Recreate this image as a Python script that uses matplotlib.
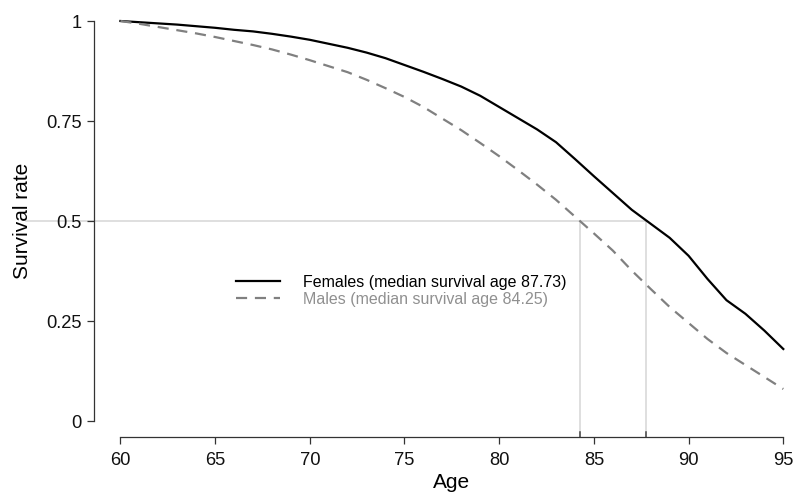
import matplotlib
matplotlib.use("Agg")
import matplotlib.pyplot as plt

plt.rcParams["font.family"] = ["Liberation Sans", "DejaVu Sans"]

# Survival curves by age (read at yearly ages)
ages = [60, 61, 62, 63, 64, 65, 66, 67, 68, 69, 70, 71, 72, 73, 74, 75, 76, 77,
        78, 79, 80, 81, 82, 83, 84, 85, 86, 87, 88, 89, 90, 91, 92, 93, 94, 95]
females = [1.000, 0.997, 0.994, 0.991, 0.987, 0.983, 0.978, 0.974, 0.968, 0.961,
           0.953, 0.943, 0.933, 0.921, 0.907, 0.890, 0.873, 0.855, 0.836, 0.813,
           0.785, 0.757, 0.729, 0.697, 0.655, 0.612, 0.570, 0.528, 0.493, 0.458,
           0.413, 0.355, 0.302, 0.268, 0.226, 0.180]
males = [1.000, 0.993, 0.985, 0.977, 0.969, 0.960, 0.950, 0.940, 0.929, 0.916,
         0.902, 0.887, 0.872, 0.853, 0.832, 0.810, 0.785, 0.756, 0.727, 0.695,
         0.662, 0.627, 0.591, 0.553, 0.511, 0.469, 0.426, 0.376, 0.330, 0.285,
         0.245, 0.205, 0.170, 0.140, 0.110, 0.080]

median_female = 87.73
median_male = 84.25
median_level = 0.5

x_ticks = [60, 65, 70, 75, 80, 85, 90, 95]
y_ticks = [0, 0.25, 0.5, 0.75, 1]
y_tick_labels = ["0", "0.25", "0.5", "0.75", "1"]

labels = [f"Females (median survival age {median_female:.2f})",
          f"Males (median survival age {median_male:.2f})"]

fig = plt.figure(figsize=(7.95, 4.96), dpi=100)
ax = fig.add_axes([120.4 / 795, 75 / 496, 662.9 / 795, 400 / 496])

ref_color = "#d6d6d6"
axis_color = "#333333"

# reference lines at the median
ax.plot([55, median_female], [median_level, median_level], color=ref_color,
        lw=1.1, clip_on=False, zorder=1)
for m in (median_male, median_female):
    ax.plot([m, m], [-0.04, median_level], color=ref_color, lw=1.1,
            clip_on=False, zorder=1)
    ax.plot([m, m], [-0.04, -0.028], color="#444444", lw=1.1,
            clip_on=False, zorder=2)

l1, = ax.plot(ages, females, color="black", lw=1.6, zorder=3, clip_on=False)
l2, = ax.plot(ages, males, color="#808080", lw=1.6, ls=(0, (5, 3.5)),
              zorder=3, clip_on=False)

ax.set_xlim(60, 95)
ax.set_ylim(0, 1)

for side in ("top", "right"):
    ax.spines[side].set_visible(False)
ax.spines["left"].set_position(("outward", 19))
ax.spines["bottom"].set_position(("outward", 11.5))
ax.spines["left"].set_bounds(0, 1)
ax.spines["bottom"].set_bounds(60, 95)
for side in ("left", "bottom"):
    ax.spines[side].set_color(axis_color)
    ax.spines[side].set_linewidth(0.9)

ax.set_xticks(x_ticks)
ax.set_yticks(y_ticks)
ax.set_yticklabels(y_tick_labels)
ax.tick_params(axis="both", length=5, width=0.9, color=axis_color,
               labelsize=13.2, labelcolor="#111111", pad=4)
ax.tick_params(axis="x", pad=6)

ax.set_xlabel("Age", fontsize=15, labelpad=3)
ax.set_ylabel("Survival rate", fontsize=15, labelpad=10)

leg = ax.legend([l1, l2], labels, loc="upper left",
                bbox_to_anchor=(0.174, 0.365), frameon=False, fontsize=11.5,
                handlelength=2.8, handletextpad=1.4, labelspacing=0.1,
                borderpad=0, borderaxespad=0,
                labelcolor=["black", "#909090"])

fig.savefig("out.png", dpi=100)
